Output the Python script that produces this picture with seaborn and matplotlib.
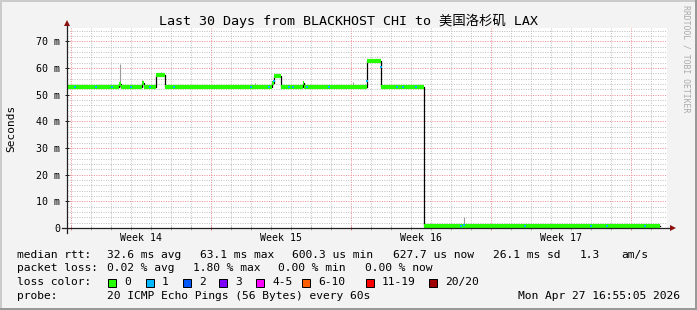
import numpy as np
import pandas as pd
import matplotlib
matplotlib.use("Agg")
import matplotlib.pyplot as plt
import matplotlib.transforms as mtransforms
from matplotlib.patches import Rectangle
import seaborn as sns

# ---------------- data ----------------
# median rtt step series (days since start of window, milliseconds)
step_days = [0.0, 2.62, 2.72, 3.74, 3.84, 4.43, 4.92, 10.25, 10.35, 10.68,
             11.78, 11.85, 15.02, 15.68, 17.83, 29.65]
step_ms = [53.0, 54.0, 53.0, 54.3, 53.0, 57.2, 53.0, 54.3, 57.0, 53.0,
           54.5, 53.0, 62.5, 53.0, 0.6, 0.6]

# samples with 1/20 loss (blue marks)
loss1_days = [0.4, 1.45, 2.27, 3.2, 4.15, 5.37, 9.19, 10.1, 10.33, 11.1, 11.3,
              12.0, 13.1, 15.0, 15.7, 16.5, 16.8, 17.45, 19.68, 19.87, 22.9,
              26.2, 26.98, 28.88]
loss1_ms = [53.0, 53.0, 53.0, 53.0, 53.0, 53.0, 53.0, 53.0, 55.0, 53.0, 53.0,
            53.0, 53.0, 55.0, 60.5, 53.0, 53.0, 53.0, 0.8, 1.2, 0.8,
            0.8, 0.8, 0.8]

# smoke spikes (min / max of pings)
spike_days = [2.66, 3.77, 4.72, 9.4, 14.3, 19.87, 22.6, 25.45, 29.6]
spike_low = [53.0, 53.0, 57.0, 53.0, 53.0, 0.6, 0.6, 0.6, 0.6]
spike_high = [61.5, 55.5, 58.4, 54.2, 54.9, 4.0, 1.5, 1.6, 1.5]

y_ticks = [0, 10, 20, 30, 40, 50, 60, 70]
y_labels = ["0", "10 m", "20 m", "30 m", "40 m", "50 m", "60 m", "70 m"]
week_lines = [0.2, 7.2, 14.2, 21.2, 28.2]
week_centers = [3.7, 10.7, 17.7, 24.7]
week_labels = ["Week 14", "Week 15", "Week 16", "Week 17"]

title = "Last 30 Days from BLACKHOST CHI to 美国洛杉矶 LAX"
rtt_items = ["median rtt:", "32.6 ms avg", "63.1 ms max", "600.3 us min",
             "627.7 us now", "26.1 ms sd", "1.3", "am/s"]
loss_items = ["packet loss:", "0.02 % avg", "1.80 % max", "0.00 % min", "0.00 % now"]
loss_color_labels = ["0", "1", "2", "3", "4-5", "6-10", "11-19", "20/20"]
loss_colors = ["#26ff00", "#00b8ff", "#0059ff", "#7e00ff", "#ff00ff",
               "#ff5e00", "#ff0000", "#a10000"]
probe_text = "20 ICMP Echo Pings (56 Bytes) every 60s"
date_text = "Mon Apr 27 16:55:05 2026"

# ---------------- figure ----------------
W, H = 697, 310
fig = plt.figure(figsize=(W / 100, H / 100), dpi=100, facecolor="#f3f3f3")
ax = fig.add_axes([67 / W, (H - 228) / H, 600 / W, 200 / H])
ax.set_facecolor("white")
ax.set_xlim(0, 30)
ax.set_ylim(0, 75)

MONO = "DejaVu Sans Mono"

# grid
ax.set_xticks(week_lines)
ax.set_xticks([0.2 + k for k in range(30)], minor=True)
ax.set_yticks(y_ticks)
ax.set_yticks(list(range(0, 76, 2)), minor=True)
ax.set_yticklabels(y_labels, family=MONO, fontsize=7.2)
ax.set_xticklabels([])
ax.grid(which="minor", color="#c0c0c0", linestyle=(0, (1, 1.4)), linewidth=0.72)
ax.grid(which="major", color="#f08c8c", linestyle=(0, (1, 1.4)), linewidth=0.72)
ax.set_axisbelow(True)
ax.tick_params(axis="y", which="major", direction="inout", length=2.9, width=0.72,
               color="#202020", pad=3.6)
ax.tick_params(axis="y", which="minor", length=0)
ax.tick_params(axis="x", which="major", direction="inout", length=2.9, width=0.72,
               color="#e08080")
ax.tick_params(axis="x", which="minor", direction="inout", length=2.9, width=0.72,
               color="#b0b0b0")
for s in ax.spines.values():
    s.set_visible(False)

# smoke spikes
ax.vlines(spike_days, spike_low, spike_high, color="#9a9a9a", linewidth=0.8, zorder=2)

# median line (black) via seaborn
df = pd.DataFrame({"days": step_days, "ms": step_ms})
sns.lineplot(data=df, x="days", y="ms", drawstyle="steps-post", estimator=None,
             color="black", linewidth=0.9, ax=ax, zorder=3)
ax.set_xlabel("")
ax.set_ylabel("")

# loss-colored median (0 loss)
ax.hlines(step_ms[:-1], step_days[:-1], step_days[1:], color=loss_colors[0],
          linewidth=3.0, zorder=4)
# 1/20 loss marks
ax.scatter(loss1_days, loss1_ms, marker="s", s=4.5, color=loss_colors[1],
           linewidths=0, zorder=5)

# axes with arrows
ax.plot([-0.009, 1.006], [0, 0], transform=ax.transAxes, color="#202020",
        lw=0.9, clip_on=False, zorder=6)
ax.plot([0, 0], [-0.025, 1.015], transform=ax.transAxes, color="#202020",
        lw=0.9, clip_on=False, zorder=6)
ax.plot([1.01], [0], marker=">", ms=4.5, color="#8b1010", transform=ax.transAxes,
        clip_on=False, zorder=7, mew=0)
ax.plot([0], [1.025], marker="^", ms=4.5, color="#8b1010", transform=ax.transAxes,
        clip_on=False, zorder=7, mew=0)

# week labels
trans = mtransforms.blended_transform_factory(ax.transData, ax.transAxes)
for xc, lab in zip(week_centers, week_labels):
    ax.text(xc, -0.05, lab, transform=trans, ha="center", va="center",
            family=MONO, fontsize=7.1)

# title and y label
fig.text(348.5 / W, 1 - 20.5 / H, title, ha="center", va="center",
         family=[MONO, "Noto Sans CJK SC"], fontsize=9.6)
fig.text(11 / W, 1 - 128 / H, "Seconds", rotation=90, ha="center", va="center",
         family=MONO, fontsize=8)
fig.text(686 / W, 1 - 59 / H, "RRDTOOL / TOBI OETIKER", rotation=270,
         ha="center", va="center", family=MONO, fontsize=5.9, color="#aaaaaa")

# legend block
def put(x, y, s, ha="left"):
    fig.text(x / W, 1 - y / H, s, ha=ha, va="center", family=MONO, fontsize=8.1)

rtt_x = [16.7, 107.3, 200, 292.3, 393, 493, 579.3, 621]
for x, s in zip(rtt_x, rtt_items):
    put(x, 254.7, s)
loss_x = [16.7, 107.3, 193.3, 278.3, 365.3]
for x, s in zip(loss_x, loss_items):
    put(x, 268.3, s)
put(16.7, 282.3, "loss color:")
box_x = [108.3, 145.7, 182.7, 219, 256.3, 302.3, 366, 429.3]
for x, c, lab in zip(box_x, loss_colors, loss_color_labels):
    fig.add_artist(Rectangle((x / W, 1 - 286.7 / H), 8 / W, 8 / H,
                             transform=fig.transFigure, facecolor=c,
                             edgecolor="black", linewidth=0.72))
    put(x + 16, 282.3, lab)
put(16.7, 296.3, "probe:")
put(107.3, 296.3, probe_text)
put(680.5, 296.3, date_text, ha="right")

# 3D frame
for (x0, y0, w, h, c) in [(0, 1 - 2 / H, 1, 2 / H, "#cbcbcb"),
                          (0, 0, 2 / W, 1, "#cbcbcb"),
                          (0, 0, 1, 2 / H, "#999999"),
                          (1 - 2 / W, 0, 2 / W, 1, "#999999")]:
    fig.add_artist(Rectangle((x0, y0), w, h, transform=fig.transFigure,
                             facecolor=c, edgecolor="none"))

fig.savefig("out.png", dpi=100, facecolor=fig.get_facecolor())
